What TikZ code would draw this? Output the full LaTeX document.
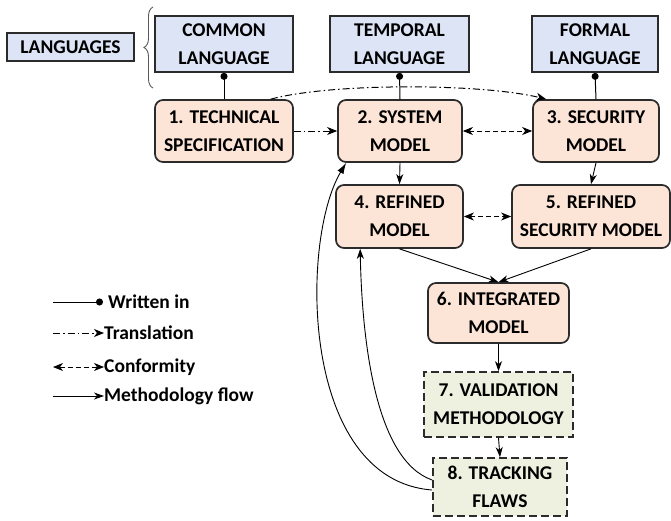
\documentclass[tikz,border=0pt]{standalone}
\usepackage{fontspec}
\setmainfont{Carlito}
\usetikzlibrary{arrows.meta,decorations.pathreplacing}
\definecolor{langfill}{HTML}{DDE4F5}
\definecolor{stepfill}{HTML}{FCE4D6}
\definecolor{checkfill}{HTML}{EEF0E0}
\definecolor{edgegray}{HTML}{2B2B2B}
\begin{document}
\begin{tikzpicture}
[
x=1pt, y=-1pt,
every node/.style={font=\bfseries\fontsize{19.5}{28}\selectfont, align=center, inner sep=0pt},
langbox/.style={rectangle, draw=edgegray, line width=1.7pt, fill=langfill},
stepbox/.style={rectangle, rounded corners=8pt, draw=edgegray, line width=1.7pt, fill=stepfill},
checkbox/.style={rectangle, draw=edgegray, line width=1.7pt, dash pattern=on 8pt off 4pt, fill=checkfill},
writtenin/.style={line width=1pt, -{Circle[length=7pt]}},
translation/.style={line width=1pt, dash pattern=on 7pt off 3pt on 1.5pt off 3pt, -{Stealth[length=10pt,width=8pt,inset=3pt]}},
conformity/.style={line width=1pt, dash pattern=on 5pt off 3pt, {Stealth[length=10pt,width=8pt,inset=3pt]}-{Stealth[length=10pt,width=8pt,inset=3pt]}},
flow/.style={line width=0.9pt, -{Stealth[length=10pt,width=7pt,inset=3pt]}},
legendtext/.style={anchor=west, font=\bfseries\fontsize{19.5}{22}\selectfont}
]
\useasboundingbox (0,0) rectangle (671,520);
%Languages
\node[langbox, minimum width=127pt, minimum height=28pt] (langs) at (70.5,47) {LANGUAGES};
\node[langbox, minimum width=138pt, minimum height=56pt] (common) at (224,44) {COMMON\\LANGUAGE};
\node[langbox, minimum width=139pt, minimum height=56pt] (temporal) at (399.5,44) {TEMPORAL\\LANGUAGE};
\node[langbox, minimum width=126pt, minimum height=56pt] (formal) at (595,44) {FORMAL\\LANGUAGE};
\draw[gray!70!black, line width=0.9pt, decorate, decoration={brace, amplitude=9pt}] (153,88) -- (153,7);

%Steps
\node[stepbox, minimum width=138pt, minimum height=62pt] (spec) at (224,131) {1. TECHNICAL\\SPECIFICATION};
\node[stepbox, minimum width=124pt, minimum height=62pt] (sysmod) at (400,131) {2. SYSTEM\\MODEL};
\node[stepbox, minimum width=126pt, minimum height=62pt] (secmod) at (596,131) {3. SECURITY\\MODEL};
\node[stepbox, minimum width=127pt, minimum height=63pt] (refmod) at (399.5,216.5) {4. REFINED\\MODEL};
\node[stepbox, minimum width=158pt, minimum height=63pt] (refsec) at (591,216.5) {5. REFINED\\SECURITY MODEL};
\node[stepbox, minimum width=141pt, minimum height=60pt] (intmod) at (498.5,313) {6. INTEGRATED\\MODEL};
\node[checkbox, minimum width=149pt, minimum height=65pt] (valid) at (498.5,404.5) {7. VALIDATION\\METHODOLOGY};
\node[checkbox, minimum width=134pt, minimum height=58pt] (track) at (500,487) {8. TRACKING\\FLAWS};

%Written in
\draw[writtenin] (spec.north) -- (common.south);
\draw[writtenin] (sysmod.north) -- (temporal.south);
\draw[writtenin] (secmod.north) -- (formal.south);

%Translation
\draw[translation] (spec.east) -- (sysmod.west);
\draw[translation] ([xshift=-23pt]spec.north east) .. controls (330,83) and (480,83) .. ([xshift=14pt]secmod.north west);

%Conformity
\draw[conformity] (sysmod.east) -- (secmod.west);
\draw[conformity] (refmod.east) -- (refsec.west);

%Methodology flow
\draw[flow] (sysmod.south) -- (refmod.north);
\draw[flow] (secmod.south) -- (refsec.north);
\draw[flow] (refmod.south) -- (intmod.north);
\draw[flow] (refsec.south) -- (intmod.north);
\draw[flow] (intmod.south) -- (valid.north);
\draw[flow] (valid.south) -- (track.north);
\draw[line width=0.9pt, -{Latex[length=11pt,width=7pt]}] ([yshift=-3pt]track.west) .. controls (300,480) and (300,240) .. ([xshift=9pt]sysmod.south west);
\draw[flow] ([yshift=7pt]track.west) .. controls (375,460) and (362,340) .. ([xshift=25pt]refmod.south west);

%Legend
\coordinate (lw) at (53,302);
\coordinate (lt) at (53,333);
\coordinate (lc) at (53,367);
\coordinate (lf) at (53,396);
\node[legendtext] (lwtext) at (108,302) {Written in};
\node[legendtext] (lttext) at (104,333) {Translation};
\node[legendtext] (lctext) at (104,367) {Conformity};
\node[legendtext] (lftext) at (104,396) {Methodology flow};
\draw[writtenin] (lw) -- ([xshift=-5pt]lwtext.west);
\draw[translation] (lt) -- (lttext.west);
\draw[conformity] (lc) -- (lctext.west);
\draw[flow] (lf) -- (lftext.west);

\end{tikzpicture}
\end{document}
